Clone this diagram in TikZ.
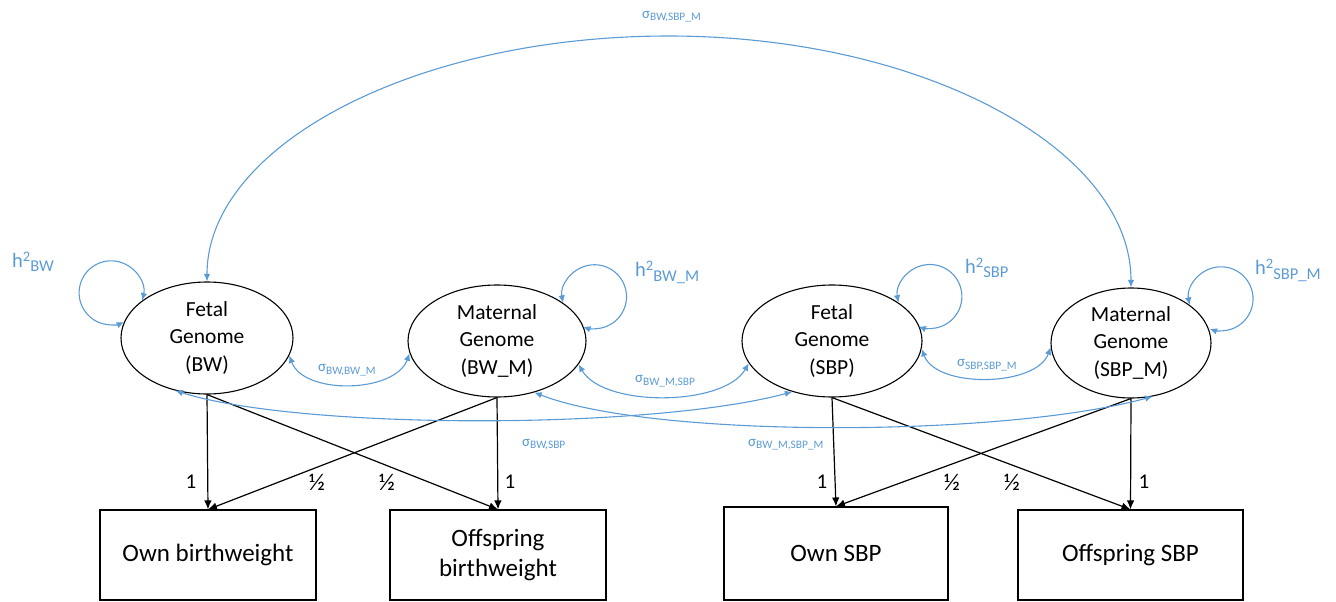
\documentclass[tikz,border=0pt]{standalone}
\usepackage{fontspec}
\setmainfont{Carlito}
\usetikzlibrary{shapes.geometric,arrows.meta}
\definecolor{covblue}{RGB}{91,155,213}
\newcommand{\sglab}[1]{{\fontsize{15}{15}\selectfont σ}\raisebox{-2.5pt}{\fontsize{11.4}{11.4}\selectfont #1}}
\newcommand{\hlab}[2]{{\fontsize{20.5}{20.5}\selectfont h}\raisebox{5.5pt}{\fontsize{14.5}{14.5}\selectfont 2}\raisebox{-#2}{\fontsize{16.5}{16.5}\selectfont #1}}
\begin{document}
\begin{tikzpicture}[x=1pt,y=1pt,
  latent/.style={draw=black, line width=1.1pt, ellipse, inner sep=0pt, align=center, font=\fontsize{21.5}{27.5}\selectfont},
  observed/.style={draw=black, line width=1.1pt, rectangle, inner sep=0pt, align=center, font=\fontsize{25}{30}\selectfont},
  regpath/.style={draw=black, line width=1.2pt, -{Latex[length=9pt,width=7.5pt]}},
  covpath/.style={draw=covblue, line width=1.1pt, {Latex[length=7.5pt,width=6.5pt]}-{Latex[length=7.5pt,width=6.5pt]}},
  coef/.style={font=\fontsize{21}{21}\selectfont, inner sep=0pt},
  half/.style={font=\fontsize{24}{24}\selectfont, inner sep=0pt},
  covlab/.style={text=covblue, inner sep=0pt, anchor=base west}]
\useasboundingbox (0,0) rectangle (1336,-602);

% latent genomes
\node[latent, minimum width=172pt, minimum height=112pt] (E1) at (207,-338) {Fetal\\Genome\\(BW)};
\node[latent, minimum width=178pt, minimum height=112pt] (E2) at (497,-341) {Maternal\\Genome\\(BW\_M)};
\node[latent, minimum width=180pt, minimum height=112pt] (E3) at (832,-341) {Fetal\\Genome\\(SBP)};
\node[latent, minimum width=160pt, minimum height=110pt] (E4) at (1131,-343) {Maternal\\Genome\\(SBP\_M)};

% observed
\node[observed, minimum width=216pt, minimum height=90pt] (B1) at (208,-555) {Own birthweight};
\node[observed, minimum width=216pt, minimum height=90pt] (B2) at (498,-555) {Offspring\\birthweight};
\node[observed, minimum width=224pt, minimum height=93pt] (B3) at (836,-553.5) {Own SBP};
\node[observed, minimum width=225pt, minimum height=90pt] (B4) at (1130.5,-555) {Offspring SBP};

% regression paths
\draw[regpath] (E1.south) -- (B1.north);
\draw[regpath] (E1.south) -- (B2.north);
\draw[regpath] (E2.south) -- (B2.north);
\draw[regpath] (E2.south) -- (B1.north);
\draw[regpath] (E3.south) -- (B3.north);
\draw[regpath] (E3.south) -- (B4.north);
\draw[regpath] (E4.south) -- (B4.north);
\draw[regpath] (E4.south) -- (B3.north);

% coefficients
\node[coef] (c1) at (191,-482) {1};
\node[half] (c2) at (317,-482) {½};
\node[half] (c3) at (387,-482) {½};
\node[coef] (c4) at (510,-482) {1};
\node[coef] (c5) at (822,-482) {1};
\node[half] (c6) at (952,-482) {½};
\node[half] (c7) at (1012,-482) {½};
\node[coef] (c8) at (1144,-482) {1};

% variance loops
\draw[covpath] (E1.150) arc[start angle=-14, end angle=294, radius=32];
\draw[covpath] (E2.30) arc[start angle=191, end angle=-111, radius=32];
\draw[covpath] (E3.30) arc[start angle=191, end angle=-111, radius=32];
\draw[covpath] (E4.33) arc[start angle=191, end angle=-111, radius=32];

\node[covlab] (h1) at (12,-267) {\hlab{BW}{4pt}};
\node[covlab] (h2) at (635,-276) {\hlab{BW\_M}{5pt}};
\node[covlab] (h3) at (965,-273) {\hlab{SBP}{4pt}};
\node[covlab] (h4) at (1255,-274) {\hlab{SBP\_M}{5pt}};

% covariances
\draw[covpath] (E1.-12) to[out=-70, in=-110, looseness=0.9] (E2.188);
\draw[covpath] (E2.-16) to[out=-60, in=-120, looseness=0.75] (E3.195);
\draw[covpath] (E3.-5) to[out=-70, in=-110, looseness=0.84] (E4.183);
\draw[covpath] (E1.239) .. controls (300,-430) and (650,-430) .. (E3.232);
\draw[covpath] (E2.-54) .. controls (650,-438) and (1000,-438) .. (E4.-68);
\coordinate (apex) at (668.5,-36);
\draw[covpath] (E1.north) .. controls (207,-146) and (413.6,-36) .. (apex) .. controls (923.4,-36) and (1131,-149) .. (E4.north);

\node[covlab] (s1) at (318,-371.7) {\sglab{BW,BW\_M}};
\node[covlab] (s2) at (635,-382.5) {\sglab{BW\_M,SBP}};
\node[covlab] (s3) at (957,-366.7) {\sglab{SBP,SBP\_M}};
\node[covlab] (s4) at (522,-446) {\sglab{BW,SBP}};
\node[covlab] (s5) at (748,-446) {\sglab{BW\_M,SBP\_M}};
\node[covlab] (s6) at (642,-18.5) {\sglab{BW,SBP\_M}};
\end{tikzpicture}
\end{document}
